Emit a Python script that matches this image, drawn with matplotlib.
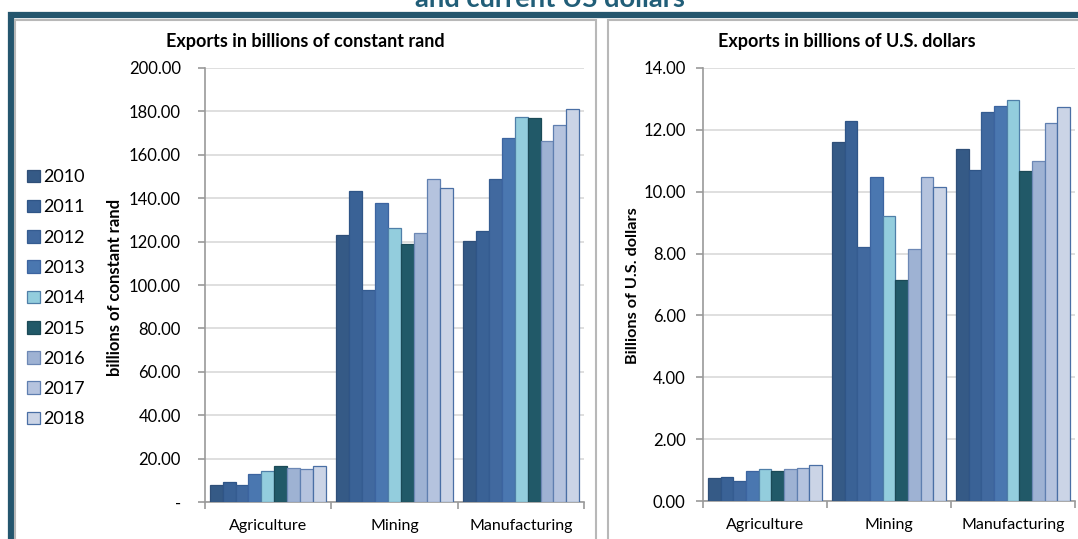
import matplotlib
matplotlib.use("Agg")
import matplotlib.pyplot as plt
from matplotlib.patches import Rectangle, Patch
import numpy as np

plt.rcParams['font.family'] = ['Lato', 'DejaVu Sans']

categories = ["Agriculture", "Mining", "Manufacturing"]
years = ["2010", "2011", "2012", "2013", "2014", "2015", "2016", "2017", "2018"]

# Exports in billions of constant rand, per year: [Agriculture, Mining, Manufacturing]
rand_2010 = [7.8, 122.9, 120.3]
rand_2011 = [9.4, 143.3, 124.9]
rand_2012 = [7.7, 97.7, 149.0]
rand_2013 = [13.1, 137.6, 167.6]
rand_2014 = [14.3, 126.4, 177.6]
rand_2015 = [16.6, 119.0, 177.0]
rand_2016 = [15.5, 123.8, 166.5]
rand_2017 = [15.2, 148.8, 173.9]
rand_2018 = [16.5, 144.5, 181.1]

# Exports in billions of U.S. dollars
usd_2010 = [0.73, 11.62, 11.37]
usd_2011 = [0.79, 12.28, 10.70]
usd_2012 = [0.65, 8.22, 12.58]
usd_2013 = [0.98, 10.49, 12.78]
usd_2014 = [1.03, 9.20, 12.95]
usd_2015 = [0.98, 7.14, 10.68]
usd_2016 = [1.02, 8.15, 10.98]
usd_2017 = [1.06, 10.47, 12.21]
usd_2018 = [1.15, 10.15, 12.73]

rand_series = [rand_2010, rand_2011, rand_2012, rand_2013, rand_2014,
               rand_2015, rand_2016, rand_2017, rand_2018]
usd_series = [usd_2010, usd_2011, usd_2012, usd_2013, usd_2014,
              usd_2015, usd_2016, usd_2017, usd_2018]

colors = ["#355a86", "#3a6296", "#41699f", "#4a77b0", "#93cddd",
          "#215968", "#9eb2d3", "#b5c3de", "#cbd4e6"]
edges = ["#2f4f78", "#2f5587", "#355c91", "#3c64a0", "#4f7fa8",
         "#1b4a57", "#6d88b5", "#5f7fb0", "#4a6fa5"]

W, H = 1078, 539
fig = plt.figure(figsize=(W / 100, H / 100), dpi=100)

def fx(px):
    return px / W

def fy(py):
    return 1 - py / H

# outer frame and panels
fig.patches.append(Rectangle((fx(11), fy(560)), fx(1100), 545 / H, transform=fig.transFigure,
                             fill=False, edgecolor="#24566e", linewidth=4.5, zorder=0))
fig.patches.append(Rectangle((fx(15), fy(560)), fx(581), 540 / H, transform=fig.transFigure,
                             facecolor="white", edgecolor="#b8b8b8", linewidth=1.5, zorder=0.5))
fig.patches.append(Rectangle((fx(607.5), fy(560)), fx(500), 540 / H, transform=fig.transFigure,
                             facecolor="white", edgecolor="#b8b8b8", linewidth=1.5, zorder=0.5))

fig.text(fx(550), fy(7), "and current US dollars", ha="center", va="baseline",
         fontsize=19.7, fontweight="bold", color="#215e78")

nser = len(years)
bw = 0.102
x = np.arange(len(categories))

def draw(ax, series, ymax, step, fmt_zero_dash, ypad):
    ax.set_zorder(2)
    ax.patch.set_alpha(0)
    for i, vals in enumerate(series):
        ax.bar(x + (i - (nser - 1) / 2) * bw, vals, width=bw, color=colors[i],
               edgecolor=edges[i], linewidth=0.9, zorder=3)
    ax.set_xlim(-0.5, len(categories) - 0.5)
    ax.set_ylim(0, ymax)
    ticks = np.arange(0, ymax + step / 2, step)
    ax.set_yticks(ticks)
    labels = []
    for t in ticks:
        if t == 0 and fmt_zero_dash:
            labels.append("-")
        else:
            labels.append(f"{t:.2f}")
    ax.set_yticklabels(labels, fontsize=12)
    ax.yaxis.grid(True, color="#d9d9d9", linewidth=1.2, zorder=0)
    ax.set_axisbelow(True)
    for s in ["top", "right"]:
        ax.spines[s].set_visible(False)
    ax.spines["left"].set_color("#9a9a9a")
    ax.spines["bottom"].set_color("#9a9a9a")
    ax.spines["left"].set_linewidth(1.2)
    ax.spines["bottom"].set_linewidth(1.2)
    ax.set_xticks(x)
    ax.set_xticklabels(categories, fontsize=11.5)
    ax.set_xticks(np.arange(-0.5, len(categories)), minor=True)
    ax.tick_params(axis="x", which="major", length=0, pad=12)
    ax.tick_params(axis="x", which="minor", length=5, color="#9a9a9a", width=1.2)
    ax.tick_params(axis="y", length=5, color="#9a9a9a", width=1.2, pad=ypad)

ax1 = fig.add_axes([fx(204.5), fy(502), fx(380), 434 / H])
draw(ax1, rand_series, 200, 20, True, 12)

ax2 = fig.add_axes([fx(703), fy(501), fx(372), 433 / H])
draw(ax2, usd_series, 14, 2, False, 7.5)

fig.text(fx(115), fy(287), "billions of constant rand", rotation=90, ha="center", va="center",
         fontsize=12, fontweight="bold")
fig.text(fx(633), fy(286), "Billions of U.S. dollars", rotation=90, ha="center", va="center",
         fontsize=11.7, fontweight="bold")

fig.text(fx(305), fy(42), "Exports in billions of constant rand", ha="center", va="center",
         fontsize=13, fontweight="bold")
fig.text(fx(847), fy(42), "Exports in billions of U.S. dollars", ha="center", va="center",
         fontsize=13, fontweight="bold")

handles = [Patch(facecolor=colors[i], edgecolor=edges[i], linewidth=0.9) for i in range(nser)]
fig.legend(handles, years, loc="upper left", bbox_to_anchor=(fx(20), fy(162)),
           frameon=False, fontsize=13, handlelength=0.7, handleheight=0.7,
           handletextpad=0.2, labelspacing=0.79, borderaxespad=0)

fig.savefig("out.png", dpi=100)
